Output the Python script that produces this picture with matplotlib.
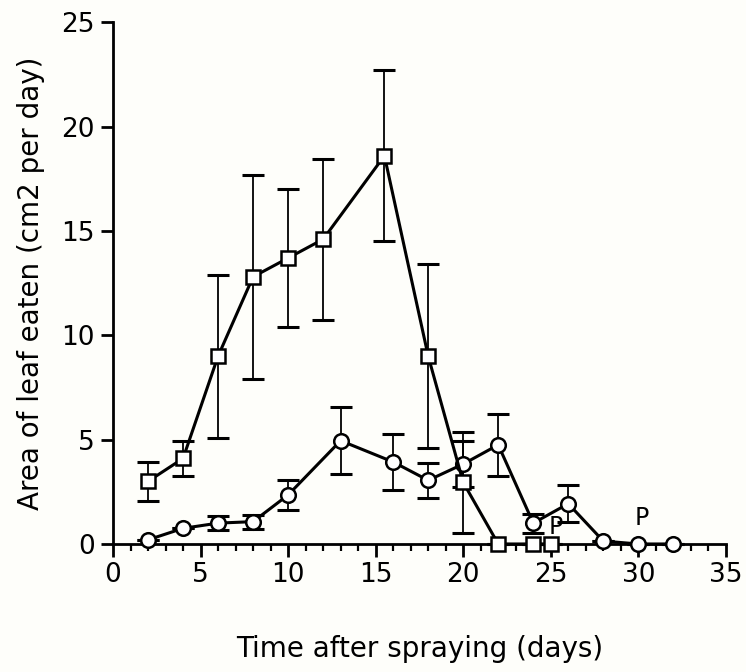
import matplotlib
matplotlib.use("Agg")
import matplotlib.pyplot as plt
from matplotlib.ticker import MultipleLocator

# Square series (untreated)
sq_days = [2, 4, 6, 8, 10, 12, 15.5, 18, 20, 22, 24, 25]
sq_vals = [3.0, 4.1, 9.0, 12.8, 13.7, 14.6, 18.6, 9.0, 2.95, 0.0, 0.0, 0.0]
sq_err = [0.95, 0.85, 3.9, 4.9, 3.3, 3.85, 4.1, 4.4, 2.4, 0.0, 0.0, 0.0]

# Circle series (sprayed)
ci_days = [2, 4, 6, 8, 10, 13, 16, 18, 20, 22, 24, 26, 28, 30, 32]
ci_vals = [0.2, 0.75, 1.0, 1.07, 2.35, 4.95, 3.93, 3.05, 3.83, 4.75, 1.0, 1.93, 0.14, 0.0, 0.0]
ci_err = [0.0, 0.0, 0.35, 0.33, 0.7, 1.6, 1.35, 0.85, 1.1, 1.5, 0.45, 0.9, 0.0, 0.0, 0.0]

# Annotations
p_labels = ["P", "P"]
p_x = [25.3, 30.2]
p_y = [0.25, 0.65]

x_ticks = [0, 5, 10, 15, 20, 25, 30, 35]
y_ticks = [0, 5, 10, 15, 20, 25]

bg = "#fefefa"
fig = plt.figure(figsize=(7.46, 6.72), dpi=100, facecolor=bg)
ax = fig.add_axes([0.1515, 0.1905, 0.8215, 0.7765], facecolor=bg)

ax.errorbar(sq_days, sq_vals, yerr=sq_err, fmt="none", ecolor="black",
            elinewidth=1.3, capsize=8, capthick=2.2, clip_on=False, zorder=2)
ax.errorbar(ci_days, ci_vals, yerr=ci_err, fmt="none", ecolor="black",
            elinewidth=1.3, capsize=8, capthick=2.2, clip_on=False, zorder=2)

ax.plot(sq_days, sq_vals, color="black", lw=2.2, marker="s", ms=10,
        mfc="white", mec="black", mew=1.8, clip_on=False, zorder=4)
ax.plot(ci_days, ci_vals, color="black", lw=2.2, marker="o", ms=10.5,
        mfc="white", mec="black", mew=1.8, clip_on=False, zorder=3)

for lab, x, y in zip(p_labels, p_x, p_y):
    ax.text(x, y, lab, fontsize=17, ha="center", va="bottom", color="black")

ax.set_xlim(0, 35)
ax.set_ylim(0, 25)
ax.set_xticks(x_ticks)
ax.set_yticks(y_ticks)
ax.xaxis.set_minor_locator(MultipleLocator(1))

for s in ["top", "right"]:
    ax.spines[s].set_visible(False)
for s in ["left", "bottom"]:
    ax.spines[s].set_linewidth(2.0)

ax.tick_params(axis="both", which="major", direction="out", length=9, width=2.0,
               labelsize=19, pad=4)
ax.tick_params(axis="x", which="minor", direction="out", length=5, width=1.6)

ax.set_xlabel("Time after spraying (days)", fontsize=20, labelpad=34)
ax.set_ylabel("Area of leaf eaten (cm2 per day)", fontsize=20, labelpad=12)

fig.savefig("out.png", dpi=100, facecolor=bg)
